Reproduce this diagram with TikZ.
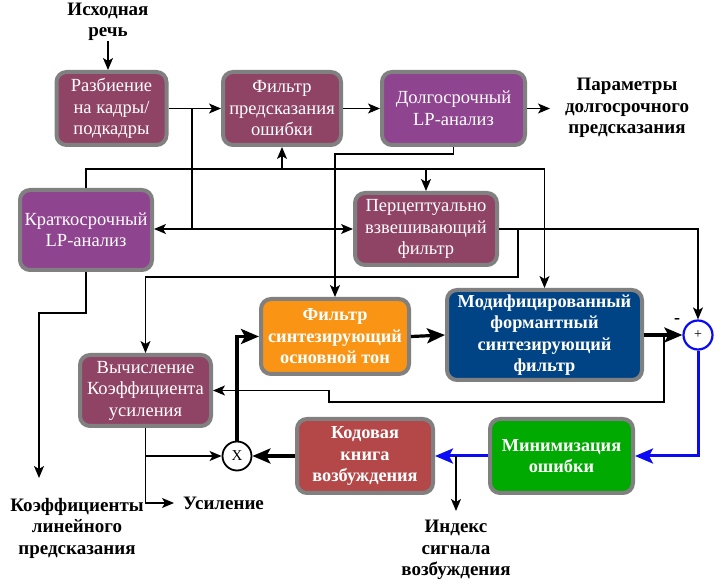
\documentclass[tikz,border=0pt]{standalone}
\usepackage{fontspec}
\setmainfont{Liberation Serif}
\usetikzlibrary{arrows.meta}
\definecolor{maroon}{RGB}{143,68,102}
\definecolor{violet}{RGB}{143,68,143}
\definecolor{orangef}{RGB}{250,148,20}
\definecolor{navyf}{RGB}{0,68,133}
\definecolor{brick}{RGB}{180,72,72}
\definecolor{greenf}{RGB}{0,170,0}
\definecolor{bordergray}{RGB}{128,128,128}
\definecolor{blueline}{RGB}{10,10,245}
\begin{document}
\begin{tikzpicture}[x=1pt,y=-1pt,
  box/.style={draw=bordergray, line width=4pt, rounded corners=10pt, text=white, align=center,
    font=\fontsize{18.5}{21.5}\selectfont, inner sep=0pt},
  boldbox/.style={box, font=\fontsize{18.3}{21.5}\selectfont\bfseries},
  lbl/.style={align=center, font=\fontsize{19}{21.5}\selectfont\bfseries, inner sep=0pt},
  arr/.style={line width=1.3pt, -{Stealth[length=12pt,width=10pt,inset=3pt]}},
  thin/.style={line width=1.3pt},
  tarr/.style={line width=3.2pt, -{Stealth[length=18pt,width=15pt,inset=4pt]}},
  barr/.style={line width=3pt, draw=blueline, -{Stealth[length=18pt,width=15pt,inset=4pt]}},
]
\useasboundingbox (0,0) rectangle (724,585);

% boxes
\node[box, fill=maroon, minimum width=110pt, minimum height=73pt] (A) at (111.5,108.5) {Разбиение\\на кадры/\\подкадры};
\node[box, fill=maroon, minimum width=118pt, minimum height=73pt] (B) at (282,108.5) {Фильтр\\предсказания\\ошибки};
\node[box, fill=violet, minimum width=143pt, minimum height=73pt] (C) at (453.5,108.5) {Долгосрочный\\LP-анализ};
\node[box, fill=violet, minimum width=132pt, minimum height=80pt] (D) at (86,230) {Краткосрочный\\LP-анализ};
\node[box, fill=maroon, minimum width=142pt, minimum height=72pt] (E) at (426,229) {Перцептуально\\взвешивающий\\фильтр};
\node[boldbox, fill=orangef, minimum width=148pt, minimum height=75pt] (F) at (335,336.5) {Фильтр\\синтезирующий\\основной тон};
\node[boldbox, fill=navyf, minimum width=195pt, minimum height=90pt] (G) at (544.5,335) {Модифицированный\\формантный\\синтезирующий\\фильтр};
\node[box, fill=maroon, minimum width=131pt, minimum height=71pt] (H) at (145.5,390.5) {Вычисление\\Коэффициента\\усиления};
\node[boldbox, fill=brick, minimum width=136pt, minimum height=74pt] (I) at (365,456) {Кодовая\\книга\\возбуждения};
\node[boldbox, fill=greenf, minimum width=143pt, minimum height=74pt] (J) at (561.5,456) {Минимизация\\ошибки};

\node[circle, draw=blueline, line width=2.2pt, fill=white, minimum size=29pt, inner sep=0pt, font=\fontsize{14}{14}\selectfont] (P) at (698,335) {+};
\node[circle, draw=black, line width=1.8pt, fill=white, minimum size=29pt, inner sep=0pt, font=\fontsize{15}{15}\selectfont] (X) at (237,456) {X};
\node[font=\fontsize{18}{18}\selectfont\bfseries, inner sep=0pt] (minus) at (677,321) {-};

% labels
\node[lbl] (src) at (108,22) {Исходная\\речь};
\node[lbl] (par) at (627,108) {Параметры\\долгосрочного\\предсказания};
\node[lbl] (lpc) at (77,528) {Коэффициенты\\линейного\\предсказания};
\node[lbl, anchor=west] (gain) at (183,503) {Усиление};
\node[lbl] (idx) at (456,550) {Индекс\\сигнала\\возбуждения};

% coordinates
\coordinate (j1) at (192,108.5);
\coordinate (h1) at (0,169);
\coordinate (h2) at (0,154);
\coordinate (j3) at (518,229);
\coordinate (h3) at (0,277);
\coordinate (j4) at (664,335);
\coordinate (k4) at (329,402);
\coordinate (j5) at (456,456);
\coordinate (e5) at (456,511);
\coordinate (k6) at (39,313);
\coordinate (e6) at (39,478);
\coordinate (e7) at (174,503);

% connectors
\draw[arr] (src.south) -- (src.south |- A.north);
\draw[arr] (A.east) -- (B.west);
\draw[arr] (B.east) -- (C.west);
\draw[arr] (C.east) -- ++(23,0);
\draw[thin] (j1) -- (j1 |- E.west);
\draw[arr] (j1 |- E.west) -- (E.west);
\draw[arr] (j1 |- E.west) -- (D.east |- E.west);
\draw[arr] (D.north) |- (G.north |- h1) -- (G.north);
\draw[arr] (B.south |- h1) -- (B.south);
\draw[arr] (E.north |- h1) -- (E.north);
\draw[arr] (C.south) -- (C.south |- h2) -| (F.north);
\draw[arr] (E.east) -| (P.north);
\draw[arr] (j3) |- (H.north |- h3) -- (H.north);
\draw[tarr] (F.east) -- (G.west);
\draw[tarr] (G.east) -- (P.west);
\draw[arr] (j4) |- (k4) |- (H.east);
\draw[barr] (P.south) |- (J.east);
\draw[barr] (J.west) -- (I.east);
\draw[arr] (j5) -- (e5);
\draw[tarr] (I.west) -- (X.east);
\draw[tarr] (X.north) |- (F.west);
\draw[arr] (H.south) |- (X.west);
\draw[arr] (H.south) |- (e7);
\draw[arr] (D.south) |- (k6) -- (e6);
\end{tikzpicture}
\end{document}
